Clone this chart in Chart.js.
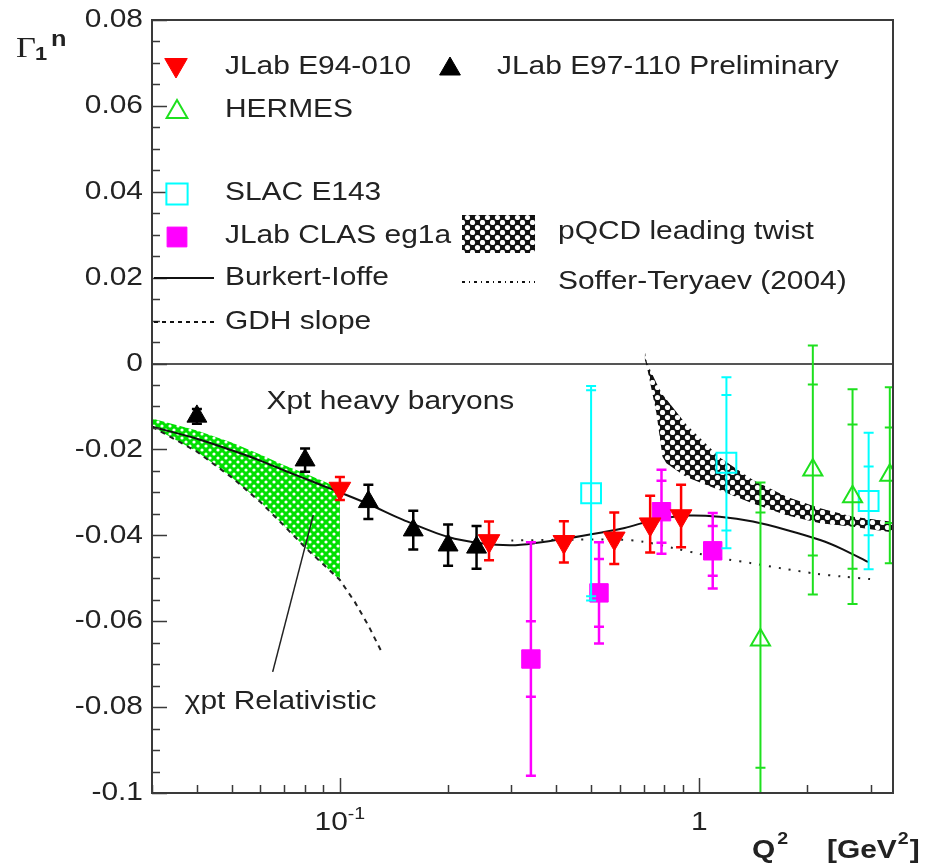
<!DOCTYPE html>
<html lang="en">
<head>
<meta charset="UTF-8">
<title>Gamma1 neutron vs Q2</title>
<script src="https://cdn.jsdelivr.net/npm/chart.js"></script>
<style>
  html, body { margin: 0; padding: 0; background: #fff; }
</style>
</head>
<body>
<canvas id="gamma1n" width="942" height="865"></canvas>
<script>
// ---- data ----
// JLab E94-010
const e94Q2  = [0.10, 0.26, 0.42, 0.58, 0.73, 0.89];
const e94G   = [-0.0291, -0.0413, -0.0415, -0.0407, -0.0374, -0.0355];
const e94Err = [0.0027, 0.0045, 0.0048, 0.0060, 0.0066, 0.0073];

// JLab E97-110 (preliminary)
const e97Q2  = [0.04, 0.08, 0.12, 0.16, 0.20, 0.24];
const e97G   = [-0.0123, -0.0225, -0.0322, -0.0388, -0.0423, -0.0428];
const e97Err = [0.0017, 0.0027, 0.0040, 0.0045, 0.0048, 0.0050];

// HERMES
const hermesQ2   = [1.48, 2.07, 2.67, 3.39];
const hermesG    = [-0.0644, -0.0248, -0.0310, -0.0260];
const hermesTot  = [0.0367, 0.0290, 0.0250, 0.0205];
const hermesStat = [0.0297, 0.0199, 0.0168, 0.0111];

// SLAC E143
const e143Q2   = [0.50, 1.19, 2.96];
const e143G    = [-0.0302, -0.0231, -0.0320];
const e143Tot  = [0.0250, 0.0199, 0.0159];
const e143Stat = [0.0240, 0.0158, 0.0080];

// JLab CLAS eg1a
const eg1aQ2   = [0.34, 0.526, 0.785, 1.09];
const eg1aG    = [-0.0688, -0.0534, -0.0345, -0.0436];
const eg1aTot  = [0.0272, 0.0118, 0.0098, 0.0088];
const eg1aStat = [0.0088, 0.0079, 0.0072, 0.0058];

// Burkert-Ioffe
const biQ2 = [0.03, 0.04, 0.05, 0.06, 0.07, 0.08, 0.09, 0.10, 0.12, 0.15, 0.20, 0.25, 0.30, 0.35,
              0.43, 0.53, 0.62, 0.75, 0.93, 1.14, 1.41, 1.76, 2.17, 2.50, 2.95];
const biG  = [-0.0147, -0.0175, -0.0202, -0.0226, -0.0249, -0.0268, -0.0285, -0.0300, -0.0327, -0.0364,
              -0.0404, -0.0419, -0.0423, -0.0418, -0.0407, -0.0394, -0.0383, -0.0364, -0.0354, -0.0357,
              -0.0368, -0.0388, -0.0411, -0.0432, -0.0462];

// Soffer-Teryaev (2004)
const stQ2 = [0.30, 0.45, 0.60, 0.70, 0.85, 1.00, 1.20, 1.40, 1.70, 2.10, 2.50, 3.00];
const stG  = [-0.0412, -0.0410, -0.0410, -0.0415, -0.0430, -0.0443, -0.0456, -0.0465, -0.0477, -0.0489, -0.0496, -0.0502];

// GDH slope
const gdhQ2 = [0.03, 0.04, 0.05, 0.06, 0.07, 0.08, 0.09, 0.10, 0.11, 0.12, 0.13];
const gdhG  = [-0.0147, -0.0205, -0.0265, -0.0322, -0.0378, -0.0428, -0.0468, -0.0504, -0.0555, -0.0610, -0.0668];

// chiral PT (relativistic) band
const chiQ2    = [0.03, 0.04, 0.05, 0.06, 0.07, 0.08, 0.09, 0.10];
const chiUpper = [-0.0128, -0.0156, -0.0184, -0.0212, -0.0237, -0.0256, -0.0274, -0.0291];
const chiLower = [-0.0147, -0.0205, -0.0265, -0.0322, -0.0378, -0.0428, -0.0468, -0.0504];

// pQCD leading twist band
const pqcdQ2    = [0.705, 0.715, 0.76, 0.79, 0.81, 0.92, 1.14, 1.41, 1.75, 2.17, 2.68, 3.39, 3.46];
const pqcdUpper = [0.0030, 0.0002, -0.0045, -0.0072, -0.0083, -0.0142, -0.0219, -0.0271, -0.0310, -0.0337, -0.0357, -0.0368, -0.0370];
const pqcdLower = [0.0010, -0.0008, -0.0116, -0.0217, -0.0232, -0.0264, -0.0295, -0.0326, -0.0353, -0.0372, -0.0380, -0.0392, -0.0393];

// pointer from the "chi pt Relativistic" label to the band
const leaderQ2 = [0.065, 0.0843];
const leaderG  = [-0.0718, -0.0353];

// axes
const xRange = [0.03, 3.46];
const yRange = [-0.1, 0.08];
const xTickValues = [0.03, 0.04, 0.05, 0.06, 0.07, 0.08, 0.09, 0.1, 0.2, 0.3, 0.4, 0.5, 0.6, 0.7, 0.8, 0.9, 1, 2, 3];
const xMajor = [0.1, 1];
const yLabelValues = [0.08, 0.06, 0.04, 0.02, 0, -0.02, -0.04, -0.06, -0.08, -0.1];

// ---- drawing helpers ----
const FONT = "'Liberation Sans', Arial, Helvetica, sans-serif";
const SX = 1.15; // the typeface is drawn a bit wide

function txt(ctx, s, x, y, size, o = {}) {
  ctx.save();
  ctx.font = (o.bold ? 'bold ' : '') + size + 'px ' + (o.family || FONT);
  ctx.fillStyle = o.color || '#222';
  ctx.textAlign = o.align || 'left';
  ctx.textBaseline = o.baseline || 'middle';
  const w = ctx.measureText(s).width * SX;
  ctx.translate(x, y);
  ctx.scale(SX, 1);
  ctx.fillText(s, 0, 0);
  ctx.restore();
  return w;
}
function txtWidth(ctx, s, size, bold) {
  ctx.save();
  ctx.font = (bold ? 'bold ' : '') + size + 'px ' + FONT;
  const w = ctx.measureText(s).width * SX;
  ctx.restore();
  return w;
}

function makePattern(size, bg, hole, r) {
  const c = document.createElement('canvas');
  c.width = c.height = size;
  const g = c.getContext('2d');
  g.fillStyle = bg;
  g.fillRect(0, 0, size, size);
  g.fillStyle = hole;
  [[size / 4, size / 4], [size * 3 / 4, size * 3 / 4]].forEach(([px, py]) => {
    g.beginPath(); g.arc(px, py, r, 0, Math.PI * 2); g.fill();
  });
  return document.getElementById('gamma1n').getContext('2d').createPattern(c, 'repeat');
}
const greenMesh = makePattern(8, '#00e000', '#ffffff', 1.6);
const blackMesh = makePattern(10, '#111111', '#ffffff', 2.6);

const pts = (xs, ys) => xs.map((x, i) => ({ x, y: ys[i] }));

function near(v, list) { return list.some(t => Math.abs(t - v) < 1e-9); }

// error bars drawn right before each marker set
const errorBars = {
  id: 'errorBars',
  beforeDatasetDraw(chart, args) {
    const ds = chart.data.datasets[args.index];
    if (!ds.errTot) return;
    const { ctx, chartArea: a, scales: { y } } = chart;
    ctx.save();
    ctx.beginPath();
    ctx.rect(a.left, a.top, a.right - a.left, a.bottom - a.top);
    ctx.clip();
    ctx.strokeStyle = ds.pointBorderColor;
    ctx.lineWidth = ds.errWidth || 2;
    args.meta.data.forEach((p, i) => {
      const v = ds.data[i].y;
      const up = y.getPixelForValue(v + ds.errTot[i]);
      const dn = y.getPixelForValue(v - ds.errTot[i]);
      ctx.beginPath();
      ctx.moveTo(p.x, up); ctx.lineTo(p.x, dn);
      ctx.moveTo(p.x - 5, up); ctx.lineTo(p.x + 5, up);
      ctx.moveTo(p.x - 5, dn); ctx.lineTo(p.x + 5, dn);
      if (ds.errStat) {
        const su = y.getPixelForValue(v + ds.errStat[i]);
        const sd = y.getPixelForValue(v - ds.errStat[i]);
        ctx.moveTo(p.x - 5, su); ctx.lineTo(p.x + 5, su);
        ctx.moveTo(p.x - 5, sd); ctx.lineTo(p.x + 5, sd);
      }
      ctx.stroke();
    });
    ctx.restore();
  }
};

// frame, inward ticks, tick labels, titles, legend
const decorations = {
  id: 'decorations',
  afterDraw(chart) {
    const { ctx, chartArea: a, scales: { x, y } } = chart;
    ctx.save();
    ctx.strokeStyle = '#3a3a3a';
    ctx.lineWidth = 2;
    ctx.strokeRect(a.left, a.top, a.right - a.left, a.bottom - a.top);

    ctx.lineWidth = 1.5;
    ctx.beginPath();
    y.ticks.forEach(t => {
      const py = Math.round(y.getPixelForValue(t.value)) + 0.5;
      const len = near(t.value, yLabelValues) ? 15 : 8;
      ctx.moveTo(a.left, py); ctx.lineTo(a.left + len, py);
    });
    x.ticks.forEach(t => {
      const px = Math.round(x.getPixelForValue(t.value)) + 0.5;
      const len = near(t.value, xMajor) ? 15 : 8;
      ctx.moveTo(px, a.bottom); ctx.lineTo(px, a.bottom - len);
    });
    ctx.stroke();

    // y labels
    y.ticks.forEach(t => {
      if (!near(t.value, yLabelValues)) return;
      const v = Math.round(t.value * 1000) / 1000;
      txt(ctx, String(v), a.left - 9, y.getPixelForValue(t.value), 26, { align: 'right' });
    });

    // x labels: 10^-1 and 1
    const lx = a.bottom + 37;
    const p1 = x.getPixelForValue(0.1);
    const w10 = txtWidth(ctx, '10', 26), wm1 = txtWidth(ctx, '-1', 17);
    txt(ctx, '10', p1 - (w10 + wm1) / 2, lx, 26, { baseline: 'alphabetic' });
    txt(ctx, '-1', p1 - (w10 + wm1) / 2 + w10, lx - 11, 17, { baseline: 'alphabetic' });
    txt(ctx, '1', x.getPixelForValue(1), lx, 26, { align: 'center', baseline: 'alphabetic' });

    // axis titles
    let cx = 752;
    const by = 858;
    cx += txt(ctx, 'Q', cx, by, 26, { bold: true, baseline: 'alphabetic' }) + 2;
    txt(ctx, '2', cx, by - 14, 17, { bold: true, baseline: 'alphabetic' });
    cx = 827;
    cx += txt(ctx, '[GeV', cx, by, 26, { bold: true, baseline: 'alphabetic' }) + 1;
    cx += txt(ctx, '2', cx, by - 14, 17, { bold: true, baseline: 'alphabetic' });
    txt(ctx, ']', cx + 1, by, 26, { bold: true, baseline: 'alphabetic' });

    txt(ctx, 'Γ', 16, 57, 30, { family: "'Liberation Serif', 'DejaVu Serif', serif", baseline: 'alphabetic' });
    txt(ctx, '1', 35, 60, 19, { bold: true, baseline: 'alphabetic' });
    txt(ctx, 'n', 51, 46, 22, { bold: true, baseline: 'alphabetic' });

    // curve labels, placed in data coordinates
    txt(ctx, 'Xpt heavy baryons', x.getPixelForValue(0.0625), y.getPixelForValue(-0.0089), 26);
    txt(ctx, 'χpt Relativistic', x.getPixelForValue(0.037), y.getPixelForValue(-0.0787), 26);

    // legend
    const L = a.left, T = a.top;
    const dp = (style, rot, r, fill, stroke, bw, px, py) => {
      ctx.save();
      ctx.fillStyle = fill; ctx.strokeStyle = stroke; ctx.lineWidth = bw;
      Chart.helpers.drawPoint(ctx, { pointStyle: style, rotation: rot, radius: r, borderWidth: bw }, px, py);
      ctx.restore();
    };
    dp('triangle', 180, 13, '#ff0000', '#ff0000', 1, L + 24, T + 45);
    txt(ctx, 'JLab E94-010', L + 73, T + 47, 26);
    dp('triangle', 0, 12, '#000', '#000', 1, L + 298, T + 49);
    txt(ctx, 'JLab E97-110 Preliminary', L + 345, T + 47, 26);
    dp('triangle', 0, 12, 'rgba(0,0,0,0)', '#1ee01e', 2, L + 25, T + 92);
    txt(ctx, 'HERMES', L + 73, T + 90, 26);
    dp('rect', 0, 15, 'rgba(0,0,0,0)', '#00ffff', 2, L + 25, T + 174);
    txt(ctx, 'SLAC E143', L + 73, T + 173, 26);
    dp('rect', 0, 14, '#ff00ff', '#ff00ff', 1, L + 25, T + 217);
    txt(ctx, 'JLab CLAS eg1a', L + 73, T + 216, 26);

    ctx.fillStyle = blackMesh;
    ctx.fillRect(L + 310, T + 195, 73, 38);
    txt(ctx, 'pQCD leading twist', L + 406, T + 212, 26);

    ctx.strokeStyle = '#111';
    ctx.lineWidth = 2;
    ctx.beginPath(); ctx.moveTo(L + 2, T + 258); ctx.lineTo(L + 62, T + 258); ctx.stroke();
    txt(ctx, 'Burkert-Ioffe', L + 73, T + 258, 26);

    ctx.lineWidth = 2;
    ctx.setLineDash([3, 4, 1, 4]);
    ctx.beginPath(); ctx.moveTo(L + 310, T + 262); ctx.lineTo(L + 383, T + 262); ctx.stroke();
    txt(ctx, 'Soffer-Teryaev (2004)', L + 406, T + 262, 26);

    ctx.setLineDash([4, 4]);
    ctx.beginPath(); ctx.moveTo(L + 2, T + 302); ctx.lineTo(L + 62, T + 302); ctx.stroke();
    ctx.setLineDash([]);
    txt(ctx, 'GDH slope', L + 73, T + 302, 26);
    ctx.restore();
  }
};

const markerSet = (data, style, rot, r, fill, stroke, bw, extra) => Object.assign({
  data, showLine: false, clip: 0,
  pointStyle: style, pointRotation: rot, pointRadius: r,
  pointBackgroundColor: fill, pointBorderColor: stroke, pointBorderWidth: bw
}, extra);

const curve = (data, color, width, dash, extra) => Object.assign({
  data, borderColor: color, borderWidth: width, borderDash: dash,
  pointRadius: 0, fill: false, tension: 0.3
}, extra);

new Chart(document.getElementById('gamma1n'), {
  type: 'line',
  data: {
    datasets: [
      markerSet(pts(e94Q2, e94G), 'triangle', 180, 12.5, '#ff0000', '#ff0000', 1, { errTot: e94Err, errWidth: 2.5 }),
      markerSet(pts(e97Q2, e97G), 'triangle', 0, 11.5, '#000000', '#000000', 1, { errTot: e97Err, errWidth: 2.5 }),
      markerSet(pts(hermesQ2, hermesG), 'triangle', 0, 11, 'rgba(0,0,0,0)', '#1ee01e', 2, { errTot: hermesTot, errStat: hermesStat }),
      markerSet(pts(e143Q2, e143G), 'rect', 0, 14, 'rgba(0,0,0,0)', '#00ffff', 2, { errTot: e143Tot, errStat: e143Stat }),
      markerSet(pts(eg1aQ2, eg1aG), 'rect', 0, 13, '#ff00ff', '#ff00ff', 1, { errTot: eg1aTot, errStat: eg1aStat, errWidth: 2.5 }),
      curve(pts(biQ2, biG), '#111111', 2, []),
      curve(pts(stQ2, stG), '#222222', 2, [2, 8]),
      curve(pts(gdhQ2, gdhG), '#222222', 2, [5, 5], { tension: 0 }),
      curve(pts(leaderQ2, leaderG), '#222222', 1.5, [], { tension: 0 }),
      curve(pts(pqcdQ2, pqcdUpper), 'rgba(0,0,0,0)', 0, [], { fill: '+1', backgroundColor: blackMesh, tension: 0 }),
      curve(pts(pqcdQ2, pqcdLower), 'rgba(0,0,0,0)', 0, [], { tension: 0 }),
      curve(pts(chiQ2, chiUpper), 'rgba(0,0,0,0)', 0, [], { fill: '+1', backgroundColor: greenMesh, tension: 0 }),
      curve(pts(chiQ2, chiLower), 'rgba(0,0,0,0)', 0, [], { tension: 0 })
    ]
  },
  options: {
    responsive: false,
    devicePixelRatio: 1,
    animation: false,
    events: [],
    layout: { padding: { top: 20, right: 49, left: 0, bottom: 0 } },
    plugins: { legend: { display: false }, tooltip: { enabled: false } },
    scales: {
      x: {
        type: 'logarithmic',
        min: xRange[0], max: xRange[1],
        border: { display: false },
        grid: { display: false },
        ticks: { display: false },
        afterBuildTicks: s => { s.ticks = xTickValues.map(v => ({ value: v })); },
        afterFit: s => { s.height = 72; }
      },
      y: {
        type: 'linear',
        min: yRange[0], max: yRange[1],
        border: { display: false },
        grid: {
          drawTicks: false,
          lineWidth: 2,
          color: c => (c.tick && Math.abs(c.tick.value) < 1e-9) ? '#555555' : 'rgba(0,0,0,0)'
        },
        ticks: { display: false },
        afterBuildTicks: s => {
          const t = [];
          for (let k = -20; k <= 16; k++) t.push({ value: Math.round(k * 5) / 1000 });
          s.ticks = t;
        },
        afterFit: s => { s.width = 152; }
      }
    }
  },
  plugins: [errorBars, decorations]
});
</script>
</body>
</html>
